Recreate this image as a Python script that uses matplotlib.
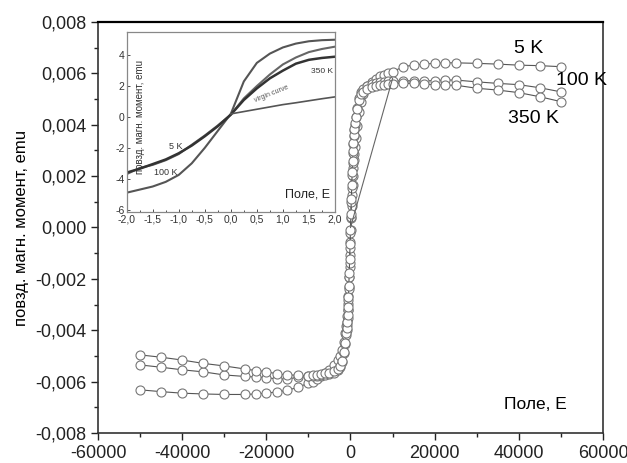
import matplotlib
matplotlib.use("Agg")
import matplotlib.pyplot as plt
from matplotlib.ticker import MultipleLocator, FuncFormatter

plt.rcParams['font.family'] = ['Liberation Sans', 'DejaVu Sans']

# main loop data, field in Oe, moment in emu
field_oe = [-50000, -45000, -40000, -35000, -30000, -25000, -22500, -20000, -17500, -15000,
            -12500, -10000, -9000, -8000, -7000, -6000, -5000, -4000, -3000, -2500, -2000,
            -1500, -1200,
            -1000, -900, -800, -700, -600, -500, -400, -300, -200, -100, 0,
            100, 200, 300, 400, 500, 600, 700, 800, 900, 1000,
            1200, 1500, 2000, 2500, 3000,
            4000, 5000, 6000, 7000, 8000, 9000, 10000,
            12500, 15000, 17500, 20000, 22500, 25000,
            30000, 35000, 40000, 45000, 50000]

m_5k = [-0.00632, -0.00639, -0.00645, -0.00648, -0.00650, -0.00650, -0.00648, -0.00645, -0.00640, -0.00634,
        -0.00622, -0.00606, -0.00600, -0.00590, -0.00578, -0.00566, -0.00553, -0.00535, -0.00515, -0.00500, -0.00475,
        -0.00445, -0.00410,
        -0.00385, -0.00366, -0.00345, -0.00322, -0.00296, -0.00266, -0.00232, -0.00194, -0.00152, -0.00106, -0.00058,
        -0.00010, 0.00038, 0.00084, 0.00126, 0.00165, 0.00200, 0.00232, 0.00261, 0.00288, 0.00312,
        0.00350, 0.00395, 0.00450, 0.00490, 0.00520,
        0.00550, 0.00568, 0.00580, 0.00588, 0.00595, 0.00600, 0.00606,
        0.00626, 0.00632, 0.00636, 0.00639, 0.00641, 0.00641,
        0.00639, 0.00636, 0.00632, 0.00630, 0.00626]

m_100k = [-0.00535, -0.00544, -0.00554, -0.00562, -0.00574, -0.00580, -0.00582, -0.00584, -0.00590, -0.00590,
          -0.00583, -0.00578, -0.00578, -0.00577, -0.00576, -0.00574, -0.00570, -0.00565, -0.00555, -0.00545, -0.00525,
          -0.00490, -0.00455,
          -0.00420, -0.00400, -0.00378, -0.00352, -0.00320, -0.00282, -0.00240, -0.00192, -0.00140, -0.00080, -0.00020,
          0.00040, 0.00100, 0.00155, 0.00205, 0.00250, 0.00290, 0.00325, 0.00355, 0.00380, 0.00400,
          0.00430, 0.00465, 0.00505, 0.00528, 0.00540,
          0.00552, 0.00558, 0.00562, 0.00565, 0.00568, 0.00570, 0.00571,
          0.00571, 0.00571, 0.00571, 0.00572, 0.00574, 0.00574,
          0.00567, 0.00561, 0.00556, 0.00544, 0.00528]

m_350k = [-0.00496, -0.00505, -0.00516, -0.00529, -0.00539, -0.00551, -0.00557, -0.00561, -0.00570, -0.00574,
          -0.00575, -0.00578, -0.00575, -0.00573, -0.00571, -0.00568, -0.00565, -0.00560, -0.00550, -0.00540, -0.00520,
          -0.00485, -0.00448,
          -0.00412, -0.00392, -0.00368, -0.00340, -0.00308, -0.00270, -0.00226, -0.00178, -0.00124, -0.00066, -0.00008,
          0.00052, 0.00110, 0.00165, 0.00215, 0.00260, 0.00298, 0.00330, 0.00360, 0.00385, 0.00405,
          0.00432, 0.00462, 0.00498, 0.00518, 0.00528,
          0.00540, 0.00546, 0.00550, 0.00553, 0.00556, 0.00558, 0.00560,
          0.00561, 0.00561, 0.00558, 0.00556, 0.00554, 0.00554,
          0.00542, 0.00535, 0.00525, 0.00509, 0.00490]

virgin_h = [0, 10000]
virgin_m = [0.0, 0.0058]

# inset, low field
inset_h = [-2.0, -1.75, -1.5, -1.25, -1.0, -0.75, -0.5, -0.25, 0.0,
           0.25, 0.5, 0.75, 1.0, 1.25, 1.5, 1.75, 2.0]
inset_100k = [-4.9, -4.7, -4.5, -4.2, -3.75, -3.0, -2.0, -0.9, 0.2,
              2.3, 3.5, 4.1, 4.5, 4.75, 4.9, 4.97, 5.0]
inset_5k = [-3.7, -3.3, -3.1, -2.8, -2.4, -1.8, -1.2, -0.55, 0.15,
            1.2, 2.0, 2.75, 3.4, 3.85, 4.2, 4.4, 4.55]
inset_350k = [-3.6, -3.35, -3.05, -2.75, -2.35, -1.85, -1.25, -0.6, 0.15,
              1.1, 1.85, 2.5, 3.0, 3.45, 3.7, 3.82, 3.9]
inset_virgin_h = [0.0, 0.25, 0.5, 0.75, 1.0, 1.25, 1.5, 1.75, 2.0]
inset_virgin = [0.2, 0.35, 0.5, 0.65, 0.8, 0.92, 1.05, 1.18, 1.3]


def comma(v, fmt):
    return (fmt % v).replace('.', ',')


fig = plt.figure(figsize=(6.27, 4.63), dpi=100)
ax = fig.add_axes([0.1563, 0.0648, 0.8054, 0.8877])

for m in (m_5k, m_100k, m_350k):
    ax.plot(field_oe, m, '-', color='#555555', lw=0.8, marker='o', ms=6.5,
            mfc='white', mec='#777777', mew=0.8)
ax.plot(virgin_h, virgin_m, '-', color='#666666', lw=0.8)

ax.set_xlim(-60000, 60000)
ax.set_ylim(-0.008, 0.008)
ax.xaxis.set_major_locator(MultipleLocator(20000))
ax.xaxis.set_minor_locator(MultipleLocator(10000))
ax.yaxis.set_major_locator(MultipleLocator(0.002))
ax.yaxis.set_minor_locator(MultipleLocator(0.001))
ax.yaxis.set_major_formatter(FuncFormatter(lambda v, p: comma(v, '%.3f')))
ax.xaxis.set_major_formatter(FuncFormatter(lambda v, p: '%d' % v))
ax.tick_params(which='both', direction='out', labelsize=13, colors='#222222')
ax.tick_params(which='major', length=5, width=1)
ax.tick_params(which='minor', length=3, width=1)
for s in ax.spines.values():
    s.set_color('#333333')
    s.set_linewidth(1.2)
ax.spines['top'].set_linewidth(1.6)
ax.spines['top'].set_color('black')

ax.set_ylabel('повзд. магн. момент, emu', fontsize=12, labelpad=4)
ax.text(42400, 0.00698, '5 K', fontsize=14, ha='center', va='center')
ax.text(54800, 0.00574, '100 K', fontsize=14, ha='center', va='center')
ax.text(43600, 0.00426, '350 K', fontsize=14, ha='center', va='center')
ax.text(51500, -0.0069, 'Поле, Е', fontsize=12.5, ha='right', va='center')

# inset
ins = fig.add_axes([0.2020, 0.5421, 0.3322, 0.3888])
ins.plot(inset_h, inset_100k, color='#555555', lw=1.5)
ins.plot(inset_h, inset_5k, color='#666666', lw=1.5)
ins.plot(inset_h, inset_350k, color='#333333', lw=1.8)
ins.plot(inset_virgin_h, inset_virgin, color='#555555', lw=1.2)
ins.set_xlim(-2.0, 2.0)
ins.set_ylim(-6.15, 5.5)
ins.xaxis.set_major_locator(MultipleLocator(0.5))
ins.xaxis.set_minor_locator(MultipleLocator(0.25))
ins.yaxis.set_major_locator(MultipleLocator(2))
ins.xaxis.set_major_formatter(FuncFormatter(lambda v, p: comma(v, '%.1f')))
ins.yaxis.set_major_formatter(FuncFormatter(lambda v, p: '%d' % v))
ins.tick_params(which='both', direction='in', labelsize=7.5, pad=1.5, colors='#333333')
ins.tick_params(which='major', length=2.5, width=0.6)
ins.tick_params(which='minor', length=1.5, width=0.6)
for s in ins.spines.values():
    s.set_color('#888888')
    s.set_linewidth(0.9)

ins.text(-1.75, 0.0, 'повзд. магн. момент, emu', rotation=90, fontsize=7,
         color='#333333', ha='center', va='center')
ins.text(-1.05, -1.94, '5 K', fontsize=6.5, color='#333333', ha='center', va='center')
ins.text(-1.24, -3.6, '100 K', fontsize=6.5, color='#333333', ha='center', va='center')
ins.text(1.97, 2.92, '350 K', fontsize=6, color='#333333', ha='right', va='center')
ins.text(0.78, 1.5, 'virgin curve', fontsize=5, color='#555555', rotation=22,
         ha='center', va='center')
ins.text(1.9, -5.03, 'Поле, Е', fontsize=9, color='#222222', ha='right', va='center')

fig.savefig('out.png', dpi=100)
